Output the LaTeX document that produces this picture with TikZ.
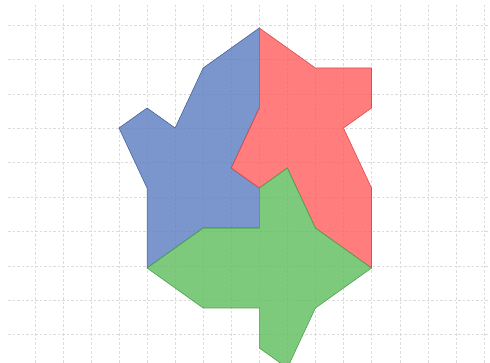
\documentclass[tikz,border=0pt]{standalone}
\usepackage{xcolor}
\usepackage{tikz}
\definecolor{tesblu}{RGB}{89,124,191}
\definecolor{tesrosso}{RGB}{255,92,92}
\definecolor{tesverde}{RGB}{92,189,92}
\tikzset{
  griglia/.style={gray!28,line width=0.5pt,dash pattern=on 2.5pt off 2pt},
  pezzo/.style={fill opacity=0.8,line width=0.6pt,line join=miter},
  pezzoblu/.style={pezzo,fill=tesblu,draw=tesblu!80!black},
  pezzorosso/.style={pezzo,fill=tesrosso,draw=tesrosso!85!black},
  pezzoverde/.style={pezzo,fill=tesverde,draw=tesverde!85!black}
}
\begin{document}
\begin{tikzpicture}[x=1pt,y=-1pt]
  \useasboundingbox (0,0) rectangle (490,363);
  \clip (0,0) rectangle (490,363);
  % griglia di sfondo
  \foreach \i in {0,...,16}
    \draw[griglia] (35+28.06*\i,5) -- (35+28.06*\i,363);
  \foreach \j in {0,...,9}
    \draw[griglia] (8,25+34.4*\j) -- (490,25+34.4*\j);
  % i tre pezzi
  \begin{scope}[shift={(259.3,28)},x=28.06pt,y=-20pt]
    \draw[pezzoblu] (0,0) -- (0,4) -- (-1,7) -- (0,8) -- (0,10) -- (-2,10)
      -- (-4,12) -- (-4,8) -- (-5,5) -- (-4,4) -- (-3,5) -- (-2,2) -- cycle;
    \draw[pezzorosso] (0,0) -- (2,2) -- (4,2) -- (4,4) -- (3,5) -- (4,8)
      -- (4,12) -- (2,10) -- (1,7) -- (0,8) -- (-1,7) -- (0,4) -- cycle;
    \draw[pezzoverde] (1,7) -- (2,10) -- (4,12) -- (2,14) -- (1,17) -- (0,16)
      -- (0,14) -- (-2,14) -- (-4,12) -- (-2,10) -- (0,10) -- (0,8) -- cycle;
  \end{scope}
\end{tikzpicture}
\end{document}
